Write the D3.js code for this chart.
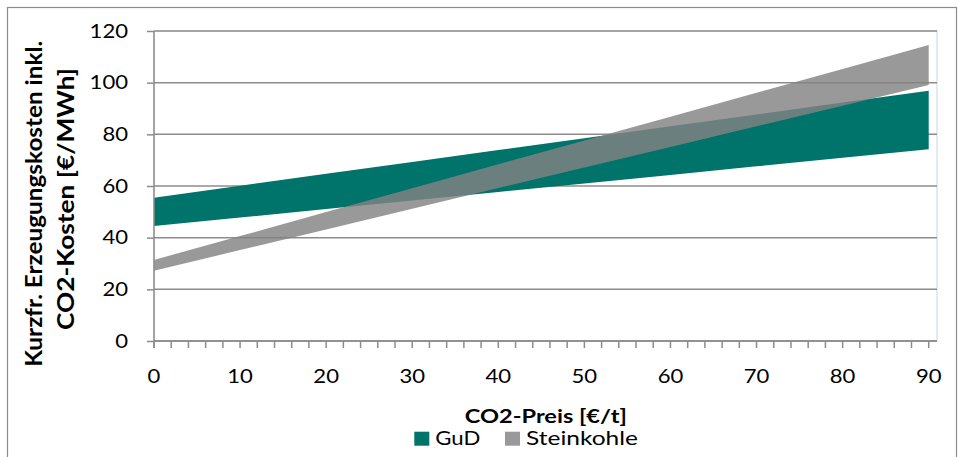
<!DOCTYPE html>
<html>
<head>
<meta charset="utf-8">
<script src="https://cdn.jsdelivr.net/npm/d3@7"></script>
<style>
  body { margin: 0; background: #fff; }
  text { font-family: Lato, "Open Sans", sans-serif; fill: #000; }
</style>
</head>
<body>
<script>
// CO2 price [€/t]
const co2Preis = [0, 10, 20, 30, 40, 50, 60, 70, 80, 90];
// short-run generation cost bands [€/MWh]
const gudMin = [44.5, 47.8, 51.1, 54.4, 57.7, 61.0, 64.3, 67.6, 70.9, 74.2];
const gudMax = [55.5, 60.1, 64.7, 69.3, 73.9, 78.5, 83.1, 87.7, 92.3, 96.9];
const skMin  = [27.2, 35.2, 43.2, 51.2, 59.2, 67.2, 75.1, 83.1, 91.1, 99.1];
const skMax  = [31.4, 40.6, 49.9, 59.1, 68.4, 77.6, 86.8, 96.1, 105.3, 114.6];
const yTicks = [0, 20, 40, 60, 80, 100, 120];
const xTicks = [0, 10, 20, 30, 40, 50, 60, 70, 80, 90];
const legendNames = ["GuD", "Steinkohle"];

const W = 958, H = 457;
const pLeft = 154, pTop = 31, pBottom = 341, pRight = 937;
const digitW = 12.8; // the source text is a bit wide, stretch it

const svg = d3.select("body").append("svg")
    .attr("width", W).attr("height", H);

// outer frame
svg.append("rect")
    .attr("x", 7.5).attr("y", 7.5).attr("width", 949).attr("height", 470)
    .attr("fill", "none").attr("stroke", "#8c8c8c").attr("stroke-width", 1.2);

const x = d3.scaleLinear().domain([0, 90]).range([pLeft, 928.7]);
const y = d3.scaleLinear().domain([0, 120]).range([pBottom, pTop]);

// plot area border (light)
svg.append("rect")
    .attr("x", pLeft).attr("y", pTop).attr("width", pRight - pLeft).attr("height", pBottom - pTop)
    .attr("fill", "none").attr("stroke", "#dde2ee").attr("stroke-width", 1.5);

// gridlines + y axis
const yAxis = svg.append("g").attr("transform", `translate(${pLeft},0)`)
    .call(d3.axisLeft(y).tickValues(yTicks).tickSize(7).tickPadding(19));
yAxis.select(".domain").remove();
yAxis.selectAll(".tick line").attr("stroke", "#8c8c8c").attr("stroke-width", 1.5);
yAxis.selectAll(".tick text")
    .style("font-size", "19.5px")
    .attr("textLength", d => String(d).length * digitW)
    .attr("lengthAdjust", "spacingAndGlyphs");
svg.append("g").selectAll("line").data(yTicks).join("line")
    .attr("x1", pLeft).attr("x2", pRight)
    .attr("y1", d => y(d)).attr("y2", d => y(d))
    .attr("stroke", "#8c8c8c").attr("stroke-width", 1.5);

// bands
const band = (lo, hi) => d3.area()
    .x((d, i) => x(co2Preis[i]))
    .y0((d, i) => y(lo[i]))
    .y1((d, i) => y(hi[i]));

svg.append("path").datum(co2Preis)
    .attr("d", band(gudMin, gudMax))
    .attr("fill", "#00736a");
svg.append("path").datum(co2Preis)
    .attr("d", band(skMin, skMax))
    .attr("fill", "#828282").attr("fill-opacity", 0.82);

// y axis line
svg.append("line")
    .attr("x1", pLeft).attr("x2", pLeft).attr("y1", pTop).attr("y2", pBottom + 7)
    .attr("stroke", "#8c8c8c").attr("stroke-width", 1.5);

// x axis: minor ticks every 2, labels every 10
const minor = d3.range(0, 91, 2);
svg.append("line")
    .attr("x1", pLeft).attr("x2", pRight).attr("y1", pBottom).attr("y2", pBottom)
    .attr("stroke", "#8c8c8c").attr("stroke-width", 1.5);
svg.append("g").selectAll("line").data(minor).join("line")
    .attr("x1", d => x(d)).attr("x2", d => x(d))
    .attr("y1", pBottom).attr("y2", pBottom + 7)
    .attr("stroke", "#8c8c8c").attr("stroke-width", 1.5);
svg.append("g").selectAll("text").data(xTicks).join("text")
    .attr("x", d => x(d)).attr("y", 383)
    .attr("text-anchor", "middle")
    .style("font-size", "19.5px")
    .attr("textLength", d => String(d).length * digitW)
    .attr("lengthAdjust", "spacingAndGlyphs")
    .text(d => d);

// axis titles
const yt = svg.append("text")
    .attr("transform", "translate(41.7,203.7) scale(1.2,1) rotate(-90)")
    .attr("text-anchor", "middle")
    .style("font-size", "19.5px").style("font-weight", "bold");
yt.append("tspan").attr("x", 0).attr("y", 0)
    .attr("textLength", 326).attr("lengthAdjust", "spacingAndGlyphs")
    .text("Kurzfr. Erzeugungskosten inkl.");
yt.append("tspan").attr("x", 4.7).attr("y", 27)
    .attr("textLength", 262).attr("lengthAdjust", "spacingAndGlyphs")
    .text("CO2-Kosten [€/MWh]");

svg.append("text")
    .attr("x", 545.8).attr("y", 423)
    .attr("text-anchor", "middle")
    .style("font-size", "18.5px").style("font-weight", "bold")
    .attr("textLength", 162).attr("lengthAdjust", "spacingAndGlyphs")
    .text("CO2-Preis [€/t]");

// legend
const legColors = ["#00736a", "#999999"];
const legX = [414.3, 505];
const legW = [45, 112];
const leg = svg.append("g").selectAll("g").data(legendNames).join("g")
    .attr("transform", (d, i) => `translate(${legX[i]},431.7)`);
leg.append("rect").attr("width", 15).attr("height", 14)
    .attr("fill", (d, i) => legColors[i]);
leg.append("text").attr("x", 21).attr("y", 13.5)
    .style("font-size", "18.5px")
    .attr("textLength", (d, i) => legW[i]).attr("lengthAdjust", "spacingAndGlyphs")
    .text(d => d);
</script>
</body>
</html>
